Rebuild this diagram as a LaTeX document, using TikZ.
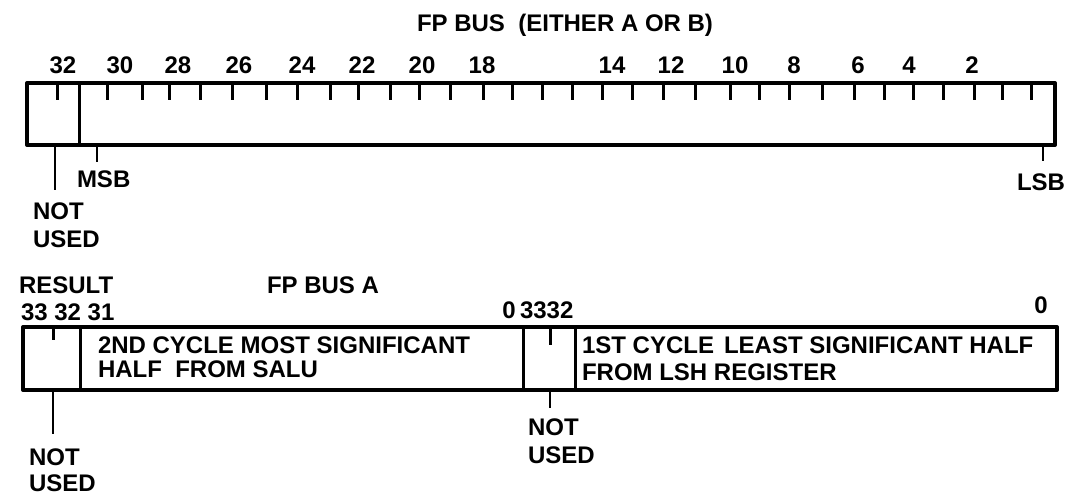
\documentclass[tikz,border=0pt]{standalone}
\usepackage{fontspec}
\setmainfont{Liberation Sans}
\begin{document}
\begin{tikzpicture}[x=1pt,y=-1pt,
  lbl/.style={font=\fontsize{24}{27}\selectfont\bfseries, inner sep=0pt, outer sep=0pt},
  boxline/.style={line width=4pt, line join=round},
  divline/.style={line width=3pt},
  tickline/.style={line width=3pt},
  conn/.style={line width=2.5pt}]
\useasboundingbox (0,0) rectangle (1070,495);

% ---------------- top register ----------------
\node[lbl, anchor=base] (titleA) at (565,32) {FP BUS~ (EITHER A OR B)};
\foreach \x/\t in {63/32,120/30,178/28,239/26,302/24,362/22,422/20,482/18,
                   612/14,671/12,735/10,794/8,858/6,909/4,972/2}
  \node[lbl, anchor=base] (num\t) at (\x,74) {\t};

\draw[boxline] (27,83) rectangle (1055,145);
\draw[divline] (79,83) -- (79,145);
\foreach \x in {57,107,142,169,200,232,266,297,330,358,390,419,450,483,512,542,
                572,602,632,663,695,730,759,789,822,854,884,913,943,974,1002,1031}
  \draw[tickline] (\x,83) -- (\x,100);

\coordinate (nuA) at (55,145);
\node[lbl, anchor=base west] (notA) at (33,219) {NOT};
\node[lbl, anchor=base west] (usedA) at (33,247) {USED};
\draw[conn, shorten >=12pt] (nuA) -- (nuA |- notA.north);

\coordinate (msbtick) at (97,145);
\node[lbl, anchor=base west] (msb) at (77,187) {MSB};
\draw[conn, shorten >=8pt] (msbtick) -- (msbtick |- msb.north);

\coordinate (lsbtick) at (1043,145);
\node[lbl, anchor=base] (lsb) at (1041,190) {LSB};
\draw[conn, shorten >=12pt] (lsbtick) -- (lsbtick |- lsb.north);

% ---------------- bottom register ----------------
\node[lbl, anchor=base west] (result) at (19,293) {RESULT};
\node[lbl, anchor=base west] (busA) at (267,293) {FP BUS A};
\node[lbl, anchor=base west] (n333231) at (21,320) {33 32 31};
\node[lbl, anchor=base] (zeroA) at (509,318) {0};
\node[lbl, anchor=base west] (n3332) at (520,318) {3332};
\node[lbl, anchor=base] (zeroB) at (1041,313) {0};

\draw[boxline] (23,327) rectangle (1057,390);
\draw[divline] (80,327) -- (80,390);
\draw[divline] (523,327) -- (523,390);
\draw[divline] (575,327) -- (575,390);
\draw[tickline] (53,327) -- (53,340);
\draw[tickline] (550,327) -- (550,345);

\node[lbl, anchor=base west] (msA) at (98,353) {2ND CYCLE MOST SIGNIFICANT};
\node[lbl, anchor=base west] (msB) at (98,377) {HALF~ FROM SALU};
\node[lbl, anchor=base west] (lsA) at (582,353) {1ST CYCLE\hspace{10pt}LEAST SIGNIFICANT HALF};
\node[lbl, anchor=base west] (lsB) at (582,380) {FROM LSH REGISTER};

\coordinate (nuB) at (53,390);
\node[lbl, anchor=base west] (notB) at (29,465) {NOT};
\node[lbl, anchor=base west] (usedB) at (29,491) {USED};
\draw[conn, shorten >=14pt] (nuB) -- (nuB |- notB.north);

\coordinate (nuC) at (550,390);
\node[lbl, anchor=base west] (notC) at (528,435) {NOT};
\node[lbl, anchor=base west] (usedC) at (528,463) {USED};
\draw[conn, shorten >=10pt] (nuC) -- (nuC |- notC.north);
\end{tikzpicture}
\end{document}
